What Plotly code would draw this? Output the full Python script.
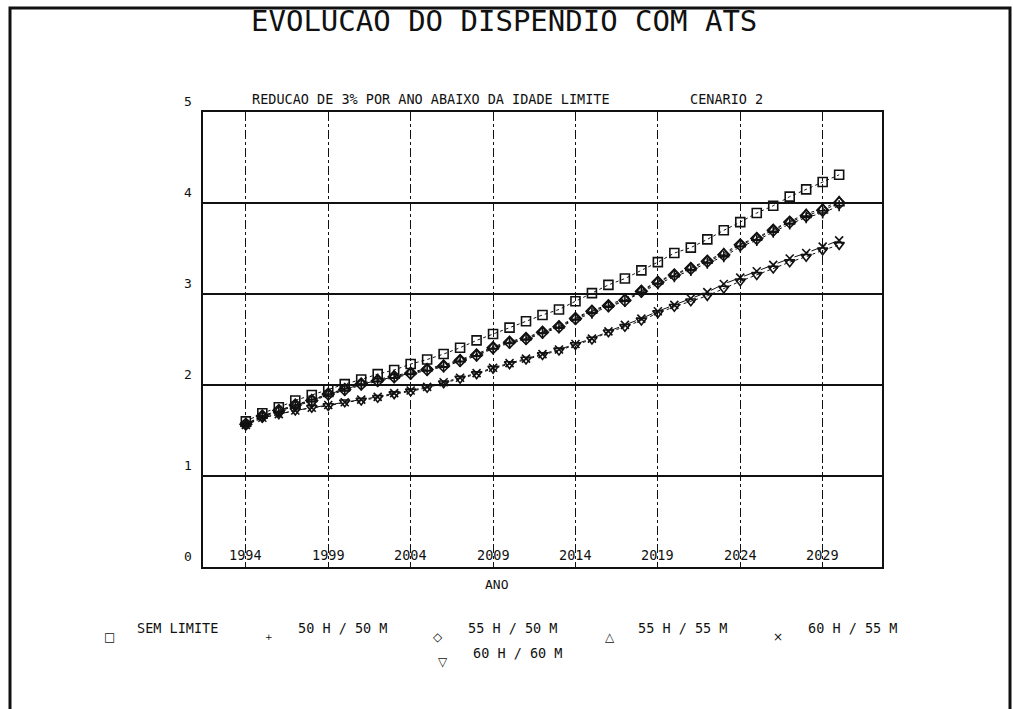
import plotly.graph_objects as go

# ---- data -------------------------------------------------------------
years = list(range(1994, 2031))

sem_limite = [1.60, 1.69, 1.755, 1.83, 1.89, 1.95, 2.01, 2.06, 2.12, 2.165,
              2.23, 2.28, 2.34, 2.41, 2.49, 2.56, 2.63, 2.70, 2.77, 2.83,
              2.92, 3.01, 3.10, 3.17, 3.26, 3.35, 3.45, 3.51, 3.60, 3.70,
              3.79, 3.89, 3.97, 4.07, 4.15, 4.23, 4.31]
h50_m50 = [1.57, 1.65, 1.71, 1.77, 1.82, 1.89, 1.94, 2.00, 2.04, 2.08,
           2.12, 2.16, 2.20, 2.26, 2.32, 2.40, 2.46, 2.50, 2.57, 2.63,
           2.72, 2.79, 2.86, 2.92, 3.02, 3.11, 3.19, 3.26, 3.34, 3.41,
           3.52, 3.59, 3.68, 3.77, 3.84, 3.89, 3.97]
h55_m50 = [1.57, 1.66, 1.72, 1.78, 1.83, 1.90, 1.95, 2.01, 2.05, 2.09,
           2.13, 2.17, 2.21, 2.27, 2.33, 2.41, 2.47, 2.51, 2.58, 2.64,
           2.73, 2.81, 2.87, 2.93, 3.03, 3.13, 3.21, 3.28, 3.36, 3.43,
           3.54, 3.61, 3.70, 3.79, 3.86, 3.92, 4.00]
h55_m55 = [1.57, 1.66, 1.72, 1.78, 1.84, 1.90, 1.96, 2.02, 2.06, 2.10,
           2.14, 2.18, 2.22, 2.28, 2.34, 2.42, 2.48, 2.52, 2.59, 2.65,
           2.74, 2.82, 2.88, 2.95, 3.04, 3.14, 3.22, 3.29, 3.37, 3.45,
           3.55, 3.62, 3.71, 3.80, 3.88, 3.94, 4.02]
h60_m55 = [1.56, 1.64, 1.68, 1.72, 1.75, 1.78, 1.81, 1.84, 1.87, 1.91,
           1.94, 1.98, 2.03, 2.08, 2.13, 2.19, 2.24, 2.29, 2.34, 2.39,
           2.45, 2.51, 2.59, 2.66, 2.73, 2.81, 2.88, 2.95, 3.02, 3.11,
           3.18, 3.25, 3.32, 3.39, 3.45, 3.52, 3.59]
h60_m60 = [1.56, 1.64, 1.68, 1.72, 1.75, 1.77, 1.81, 1.83, 1.86, 1.90,
           1.93, 1.97, 2.02, 2.07, 2.12, 2.18, 2.23, 2.28, 2.33, 2.38,
           2.44, 2.50, 2.58, 2.64, 2.71, 2.79, 2.86, 2.92, 2.98, 3.06,
           3.14, 3.21, 3.28, 3.35, 3.41, 3.48, 3.54]

series_names = ["SEM LIMITE", "50 H / 50 M", "55 H / 50 M",
                "55 H / 55 M", "60 H / 55 M", "60 H / 60 M"]
series_values = [sem_limite, h50_m50, h55_m50, h55_m55, h60_m55, h60_m60]

x_ticks = [1994, 1999, 2004, 2009, 2014, 2019, 2024, 2029]
x_tick_labels = ["1994", "1999", "2004", "2009", "2014", "2019", "2024", "2029"]
y_ticks = [0, 1, 2, 3, 4, 5]
y_tick_labels = ["0", "1", "2", "3", "4", "5"]

title_text = "EVOLUCAO DO DISPENDIO COM ATS"
subtitle_text = "REDUCAO DE 3% POR ANO ABAIXO DA IDADE LIMITE"
scenario_text = "CENARIO 2"
x_title = "ANO"

# ---- styling / layout -------------------------------------------------
W, H = 1013, 709
PL, PR, PT, PB = 203, 882, 112, 567          # plot area in pixels
FONT = "DejaVu Sans Mono"
INK = "#111111"

symbols = ["square-open", "cross-thin-open", "diamond-open",
           "triangle-up-open", "x-thin-open", "triangle-down-open"]
marker_sizes = [9, 8, 9, 9, 8, 9]
dashes = ["dot", "dot", "dashdot", "dot", "dashdot", "dot"]
legend_glyphs = ["\u25a1", "+", "\u25c7", "\u25b3", "\u00d7", "\u25bd"]


def px(x):
    return (x - PL) / (PR - PL)


def py(y):
    return (PB - y) / (PB - PT)


fig = go.Figure()
for name, vals, sym, ms, dash in zip(series_names, series_values, symbols,
                                     marker_sizes, dashes):
    fig.add_trace(go.Scatter(
        x=years, y=vals, name=name, mode="lines+markers",
        line=dict(color=INK, width=1, dash=dash),
        marker=dict(symbol=sym, size=ms, color=INK,
                    line=dict(color=INK, width=1.6)),
        showlegend=False,
    ))

annotations = []
# title and subtitle
annotations.append(dict(text=title_text, x=px(504), y=py(21), xref="paper",
                        yref="paper", showarrow=False, xanchor="center",
                        yanchor="middle", font=dict(family=FONT, size=29, color=INK)))
annotations.append(dict(text=subtitle_text, x=px(250), y=py(99), xref="paper",
                        yref="paper", showarrow=False, xanchor="left",
                        yanchor="middle", font=dict(family=FONT, size=13.5, color=INK)))
annotations.append(dict(text=scenario_text, x=px(688), y=py(99), xref="paper",
                        yref="paper", showarrow=False, xanchor="left",
                        yanchor="middle", font=dict(family=FONT, size=13.5, color=INK)))

# tick labels: x inside the frame on the gridlines, y left and raised
for v, lab in zip(x_ticks, x_tick_labels):
    annotations.append(dict(text=lab, x=v, y=py(555), xref="x", yref="paper",
                            showarrow=False, xanchor="center", yanchor="middle",
                            font=dict(family=FONT, size=13.5, color=INK)))
for v, lab in zip(y_ticks, y_tick_labels):
    annotations.append(dict(text=lab, x=px(188), y=v, xref="paper", yref="y",
                            yshift=11, showarrow=False, xanchor="center",
                            yanchor="middle",
                            font=dict(family=FONT, size=13, color=INK)))

annotations.append(dict(text=x_title, x=px(497), y=py(584), xref="paper",
                        yref="paper", showarrow=False, xanchor="center",
                        yanchor="middle", font=dict(family=FONT, size=13, color=INK)))

# legend built from glyphs and labels
legend_layout = [
    # glyph x, glyph y, label x (left), label y
    (110, 637, 135, 628),
    (269, 637, 296, 628),
    (438, 637, 466, 628),
    (610, 637, 636, 628),
    (778, 637, 806, 628),
    (443, 662, 471, 653),
]
for (gx, gy, lx, ly), glyph, name in zip(legend_layout, legend_glyphs, series_names):
    annotations.append(dict(text=glyph, x=px(gx), y=py(gy), xref="paper",
                            yref="paper", showarrow=False, xanchor="center",
                            yanchor="middle",
                            font=dict(family="DejaVu Sans", size=12 if glyph != "+" else 9,
                                      color=INK)))
    annotations.append(dict(text=name, x=px(lx), y=py(ly), xref="paper",
                            yref="paper", showarrow=False, xanchor="left",
                            yanchor="middle",
                            font=dict(family=FONT, size=13.5, color=INK)))

shapes = [
    # outer page frame
    dict(type="rect", xref="paper", yref="paper",
         x0=px(10), x1=px(1010), y0=py(715), y1=py(8),
         line=dict(color=INK, width=3), layer="above"),
]

fig.update_layout(
    width=W, height=H, autosize=False,
    margin=dict(l=PL, r=W - PR, t=PT, b=H - PB, pad=0),
    paper_bgcolor="white", plot_bgcolor="white",
    showlegend=False,
    annotations=annotations,
    shapes=shapes,
    xaxis=dict(range=[1991.4, 2032.6], tickvals=x_ticks, showticklabels=False,
               ticks="", showgrid=True, gridcolor=INK, gridwidth=1,
               griddash="dashdot", zeroline=False, showline=True,
               linecolor=INK, linewidth=1.5, mirror=True),
    yaxis=dict(range=[0, 5], tickvals=y_ticks, showticklabels=False,
               ticks="", showgrid=True, gridcolor=INK, gridwidth=1.5,
               zeroline=False, showline=True, linecolor=INK, linewidth=1.5,
               mirror=True),
)

fig.write_html("out.html")
